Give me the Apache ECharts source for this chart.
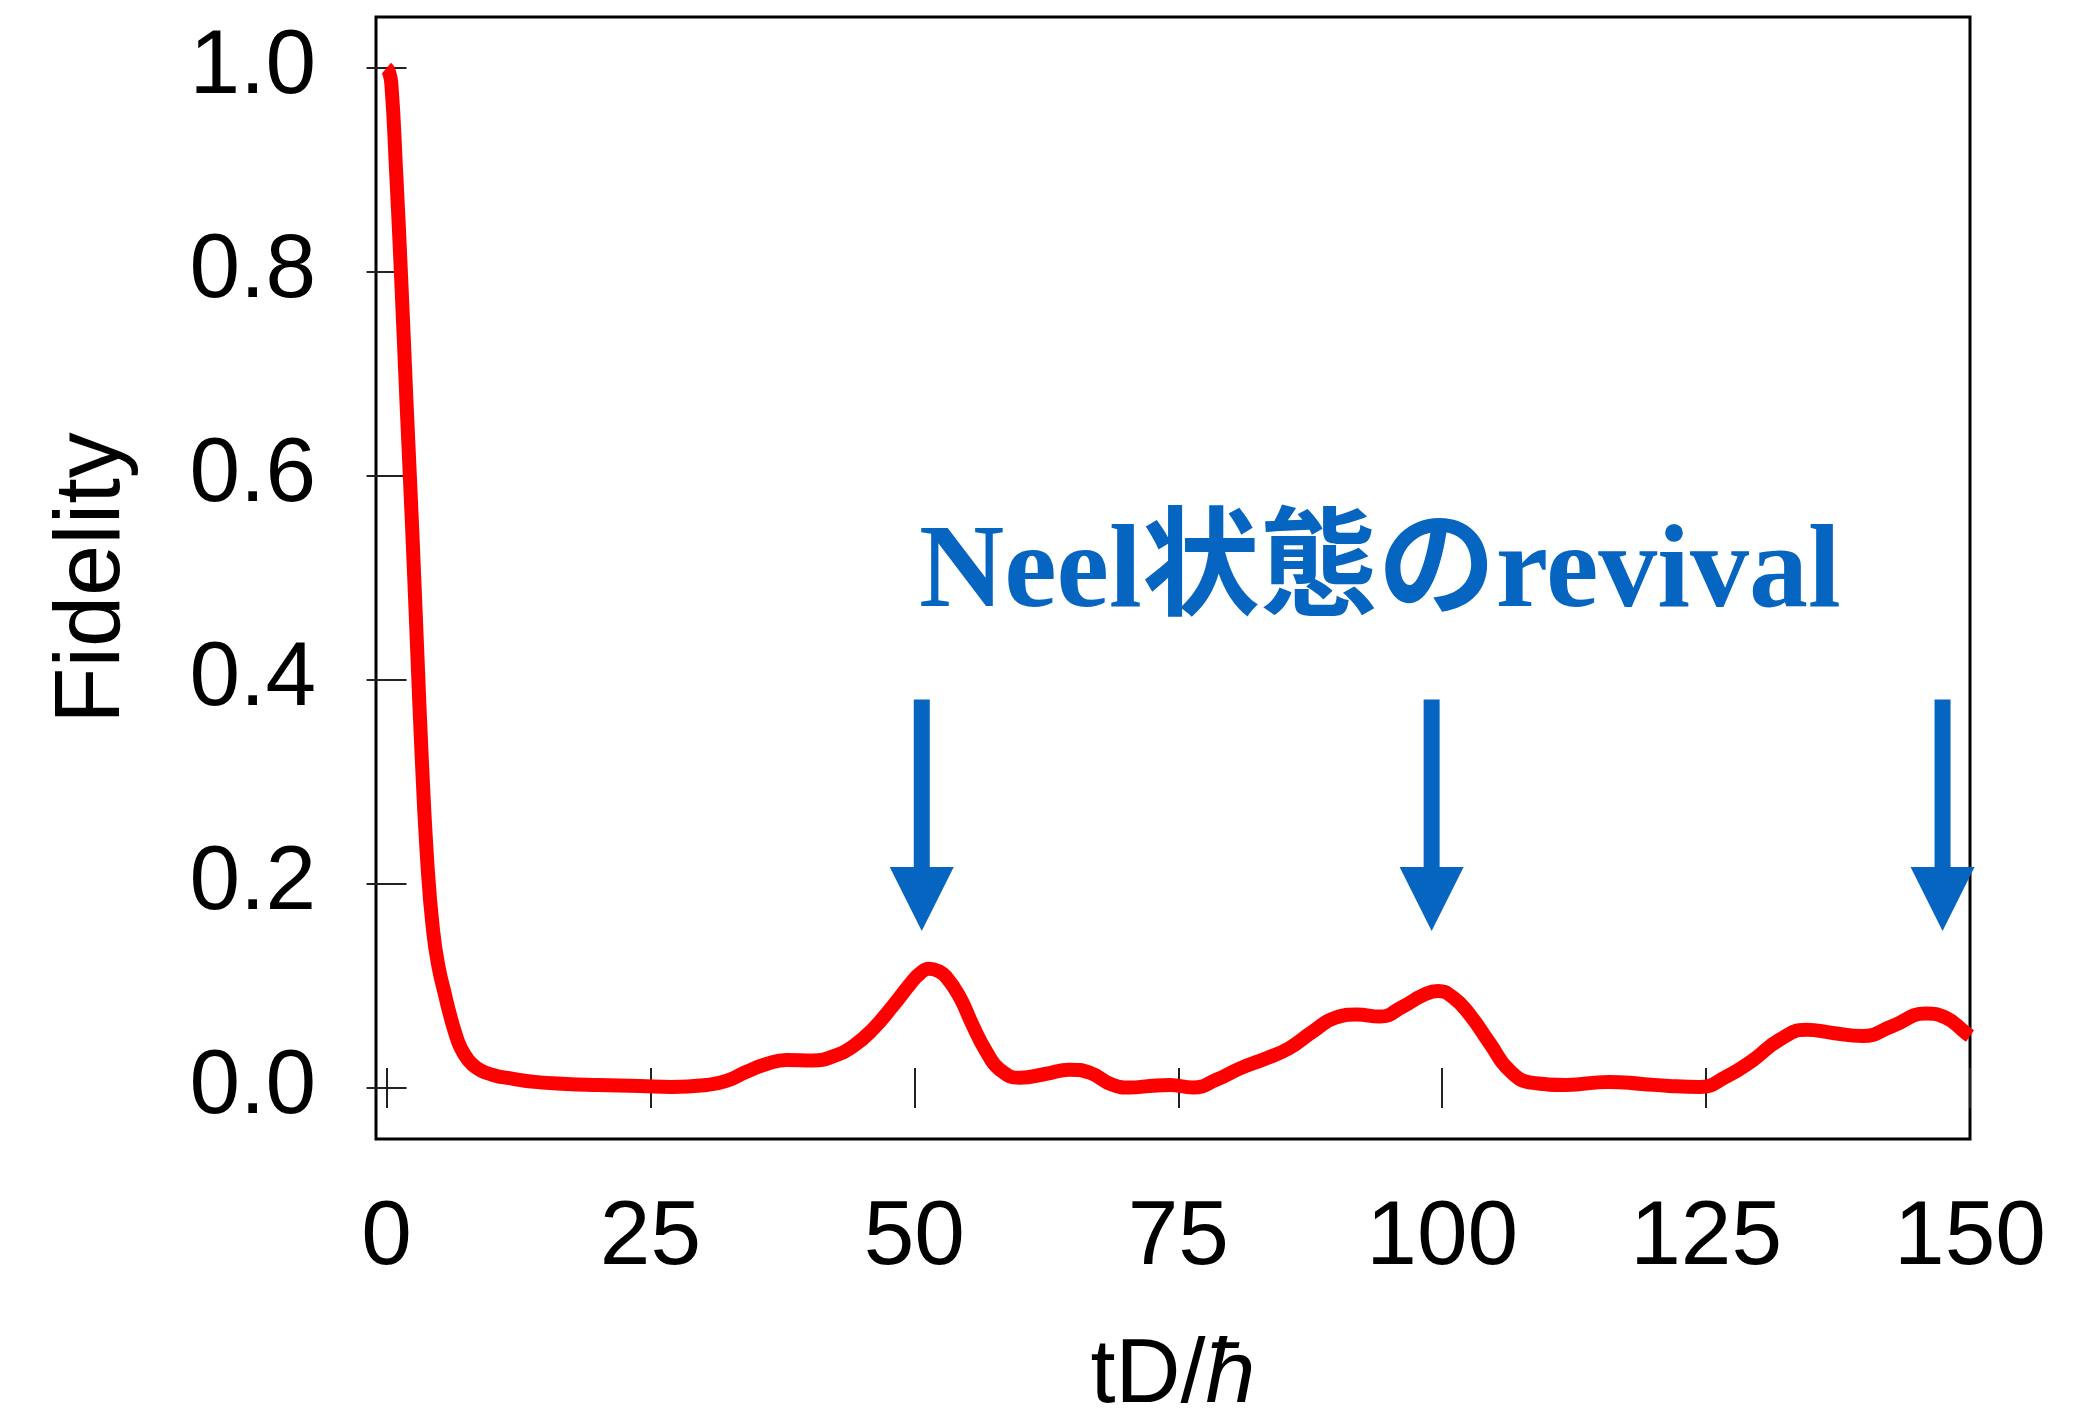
<!DOCTYPE html>
<html>
<head>
<meta charset="utf-8">
<script src="https://cdn.jsdelivr.net/npm/echarts@6/dist/echarts.min.js"></script>
<style>
html,body{margin:0;padding:0;background:#fff;}
#chart{width:2079px;height:1412px;}
</style>
</head>
<body>
<div id="chart"></div>
<script>
// ---- data ----
const tValues = [0, 0.2, 0.45, 0.9, 1.4, 1.9, 2.4, 2.9, 3.35, 3.9, 4.4, 4.9, 5.5, 6.0, 6.5, 7.0, 7.7, 8.5, 10, 12, 14, 17, 20, 24,
  27, 30.3, 32.2, 34.1, 36.0, 37.9, 40.4, 42.3, 44.2, 46.1, 48.0, 49.6, 50.5, 51.4, 52.2, 53.0, 54.3, 55.5, 56.8, 58.1,
  60.0, 62.5, 64.7, 66.6, 68.8, 70.4, 72.3, 74.2, 76.4, 78.6, 80.8, 83.3, 85.5, 87.7, 89.9, 91.9, 94.1, 96.3, 98.2,
  99.6, 101.0, 102.6, 104.5, 106.4, 108.6, 111.7, 115.8, 118.9, 121.5, 124.4, 126.9, 129.4, 131.9, 134.5, 137.0,
  139.8, 142.7, 145.8, 147.7, 149.6, 150];
const fidelity = [1.0, 0.997, 0.985, 0.9, 0.79, 0.67, 0.555, 0.43, 0.32, 0.215, 0.155, 0.12, 0.093, 0.072, 0.054, 0.04, 0.028, 0.02, 0.013, 0.009, 0.006, 0.004, 0.003, 0.002,
  0.001, 0.003, 0.007, 0.016, 0.0235, 0.0275, 0.027, 0.031, 0.041, 0.058, 0.081, 0.102, 0.112, 0.117, 0.115, 0.109, 0.089, 0.062, 0.036, 0.018,
  0.010, 0.014, 0.018, 0.015, 0.003, 0.0004, 0.002, 0.003, 0.0004, 0.008, 0.019, 0.029, 0.039, 0.055, 0.069, 0.072, 0.070, 0.080, 0.091,
  0.095, 0.089, 0.072, 0.044, 0.017, 0.005, 0.003, 0.006, 0.004, 0.002, 0.001, 0.011, 0.027, 0.047, 0.057, 0.054,
  0.051, 0.061, 0.073, 0.069, 0.054, 0.051];
const xTicks = [0, 25, 50, 75, 100, 125, 150];
const yTicks = [0, 0.2, 0.4, 0.6, 0.8, 1.0];
const arrowX = [50.7, 99.0, 147.4];
const arrowTop = [0.381, 0.381, 0.381];
const arrowTip = [0.154, 0.154, 0.154];
const annotText = 'Neel状態のrevival';
const annotX = 94.1;
const annotY = 0.502;

// ---- chart ----
const lineData = tValues.map((t, i) => [t, fidelity[i]]);
const arrowData = arrowX.map((x, i) => [x, arrowTop[i], arrowTip[i]]);
const BLUE = '#0565C0';
const SHAFT_W = 16, HEAD_W = 64, HEAD_L = 64;

const chart = echarts.init(document.getElementById('chart'), null, {renderer: 'canvas'});
const labelFont = {fontFamily: 'Liberation Sans', fontSize: 91, color: '#000'};
const tickStyle = {show: true, inside: true, length: 20, lineStyle: {color: '#222', width: 2}};

chart.setOption({
  animation: false,
  backgroundColor: '#fff',
  grid: {left: 376, top: 17, width: 1594, height: 1122, show: true, borderColor: '#000', borderWidth: 3,
         containLabel: false, outerBoundsMode: 'none'},
  xAxis: [
    {type: 'value', min: -1, max: 150, position: 'bottom',
     axisLine: {show: false}, splitLine: {show: false},
     axisTick: Object.assign({customValues: xTicks}, tickStyle),
     axisLabel: Object.assign({customValues: xTicks, margin: 54, formatter: v => String(v)}, labelFont),
     name: 'tD/{i|ħ}', nameLocation: 'middle', nameGap: 193,
     nameTextStyle: {fontFamily: 'Liberation Sans', fontSize: 90, color: '#000',
       rich: {i: {fontFamily: 'Liberation Sans', fontSize: 90, fontStyle: 'italic', color: '#000'}}}},
    {type: 'value', min: -1, max: 150, position: 'top',
     axisLine: {show: false}, splitLine: {show: false},
     axisTick: Object.assign({customValues: xTicks}, tickStyle),
     axisLabel: {show: false}}
  ],
  yAxis: [
    {type: 'value', min: -0.05, max: 1.05, position: 'left',
     axisLine: {show: false}, splitLine: {show: false},
     axisTick: Object.assign({customValues: yTicks}, tickStyle),
     axisLabel: Object.assign({customValues: yTicks, margin: 60, formatter: v => v.toFixed(1)}, labelFont),
     name: 'Fidelity', nameLocation: 'middle', nameGap: 236, nameRotate: 90,
     nameTextStyle: {fontFamily: 'Liberation Sans', fontSize: 92, color: '#000'}},
    {type: 'value', min: -0.05, max: 1.05, position: 'right',
     axisLine: {show: false}, splitLine: {show: false},
     axisTick: Object.assign({customValues: yTicks}, tickStyle),
     axisLabel: {show: false}}
  ],
  series: [
    {type: 'line', data: lineData, xAxisIndex: 0, yAxisIndex: 0,
     showSymbol: false, symbol: 'none', smooth: 0.5,
     lineStyle: {color: '#ff0000', width: 14, join: 'round'}, z: 3},
    {type: 'custom', data: arrowData, xAxisIndex: 0, yAxisIndex: 0, clip: false, z: 4,
     renderItem: function (params, api) {
       const x = api.value(0);
       const pTop = api.coord([x, api.value(1)]);
       const pTip = api.coord([x, api.value(2)]);
       const baseY = pTip[1] - HEAD_L;
       return {type: 'group', children: [
         {type: 'rect', shape: {x: pTop[0] - SHAFT_W / 2, y: pTop[1], width: SHAFT_W, height: baseY - pTop[1] + 1},
          style: {fill: BLUE}},
         {type: 'polygon', shape: {points: [[pTip[0] - HEAD_W / 2, baseY], [pTip[0] + HEAD_W / 2, baseY], [pTip[0], pTip[1]]]},
          style: {fill: BLUE}}
       ]};
     }},
    {type: 'custom', data: [[annotX, annotY]], xAxisIndex: 0, yAxisIndex: 0, clip: false, z: 4,
     renderItem: function (params, api) {
       const p = api.coord([api.value(0), api.value(1)]);
       return {type: 'text', x: p[0], y: p[1], style: {
         text: annotText, fill: BLUE, fontSize: 118, fontWeight: 'bold',
         fontFamily: "'Liberation Serif', 'Noto Sans CJK JP', serif",
         align: 'center', verticalAlign: 'middle'}};
     }}
  ]
});
</script>
</body>
</html>
